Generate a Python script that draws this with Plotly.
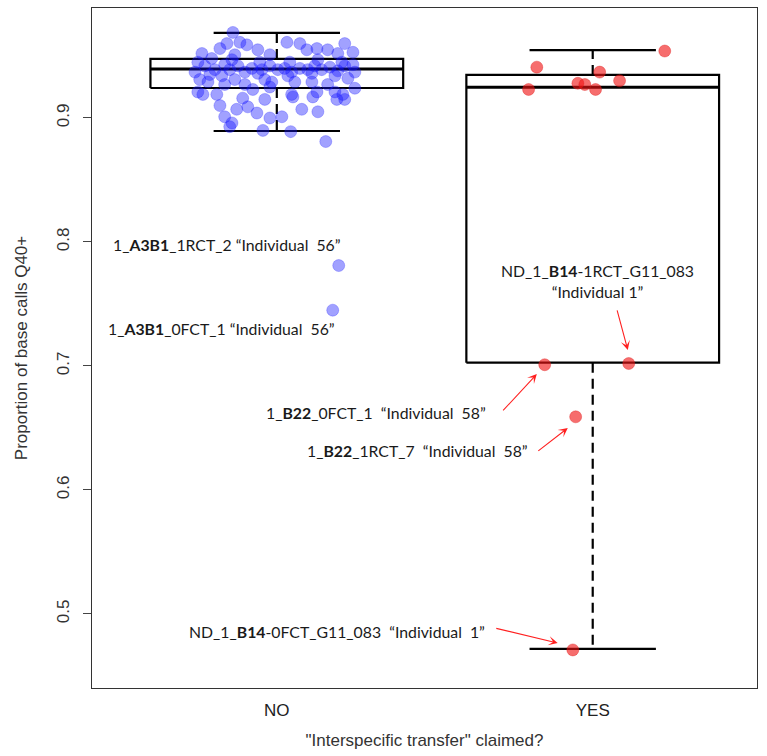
import plotly.graph_objects as go

# ---------------- data ----------------
categories = ["NO", "YES"]
cat_pos = [1, 2]

# box statistics (lower whisker, Q1, median, Q3, upper whisker)
whisker_lo = [0.8895, 0.4718]
q1 = [0.9242, 0.7027]
median = [0.9395, 0.9248]
q3 = [0.9476, 0.9347]
whisker_hi = [0.9686, 0.9548]

# NO group points: horizontal jitter and value
no_jitter = [-0.139, -0.158, -0.180, -0.237, -0.206, -0.133, 0.032, -0.060, 0.073, -0.095,
             0.215, 0.127, 0.161, 0.193, 0.095, 0.241, -0.117, -0.022,
             -0.250, -0.228, -0.165, -0.196, -0.101, -0.149, -0.123, -0.079, -0.047, -0.022,
             0.003, 0.025, 0.047, 0.073, 0.098, 0.120, 0.142, 0.168, 0.193, 0.215, 0.241, 0.247,
             -0.259, -0.212, -0.174, -0.060, 0.035, 0.111, 0.184, 0.206, 0.130, 0.041, -0.054, -0.142,
             -0.218, -0.165, -0.133, -0.250, -0.190, -0.016, 0.057, -0.076, 0.047, -0.022, 0.225,
             0.111, 0.161, 0.184, 0.127, 0.209, 0.247, -0.101, -0.244, -0.038,
             -0.108, -0.092, -0.127, -0.063, -0.038, -0.165, -0.142, -0.149, -0.022, -0.044, 0.016,
             0.051, 0.114, 0.079, 0.130, 0.044, 0.155, 0.190, 0.215, -0.180, -0.234,
             0.196, 0.177]
no_values = [0.969, 0.960, 0.956, 0.952, 0.948, 0.951, 0.961, 0.955, 0.960, 0.959,
             0.960, 0.956, 0.955, 0.952, 0.955, 0.953, 0.961, 0.951,
             0.945, 0.942, 0.943, 0.939, 0.937, 0.939, 0.942, 0.940, 0.939, 0.942,
             0.939, 0.940, 0.937, 0.940, 0.939, 0.942, 0.939, 0.941, 0.938, 0.942, 0.943, 0.937,
             0.937, 0.935, 0.934, 0.936, 0.934, 0.936, 0.934, 0.945, 0.947, 0.945, 0.945, 0.947,
             0.929, 0.927, 0.931, 0.921, 0.919, 0.929, 0.929, 0.923, 0.919, 0.925, 0.932,
             0.929, 0.927, 0.921, 0.921, 0.919, 0.924, 0.927, 0.931, 0.931,
             0.916, 0.909, 0.907, 0.904, 0.915, 0.901, 0.896, 0.893, 0.900, 0.890, 0.901,
             0.917, 0.917, 0.907, 0.905, 0.889, 0.881, 0.915, 0.915, 0.910, 0.919,
             0.781, 0.745]

# YES group points
yes_jitter = [0.228, -0.177, 0.022, 0.085, -0.203, -0.047, -0.025, 0.009,
              -0.152, 0.114, -0.054, -0.063]
yes_values = [0.954, 0.941, 0.937, 0.930, 0.923, 0.928, 0.927, 0.923,
              0.701, 0.702, 0.659, 0.471]

# annotation labels
label_texts = [
    "1_<b>A3B1</b>_1RCT_2 \u201cIndividual\u00a0\u00a056\u201d",
    "1_<b>A3B1</b>_0FCT_1 \u201cIndividual\u00a0\u00a056\u201d",
    "ND_1_<b>B14</b>-1RCT_G11_083<br>\u201cIndividual 1\u201d",
    "1_<b>B22</b>_0FCT_1\u00a0\u00a0\u201cIndividual\u00a0\u00a058\u201d",
    "1_<b>B22</b>_1RCT_7\u00a0\u00a0\u201cIndividual\u00a0\u00a058\u201d",
    "ND_1_<b>B14</b>-0FCT_G11_083\u00a0\u00a0\u201cIndividual\u00a0\u00a01\u201d",
]
label_x = [0.842, 0.826, 2.016, 1.313, 1.446, 1.190]
label_y = [0.7976, 0.7306, 0.7685, 0.6621, 0.6315, 0.4855]

# arrows: head and tail positions in data units
arrow_head_x = [1.823, 1.921, 2.111, 1.889]
arrow_head_y = [0.6935, 0.650, 0.7129, 0.4766]
arrow_tail_x = [1.712, 1.823, 2.076, 1.690]
arrow_tail_y = [0.6629, 0.6306, 0.7460, 0.4887]

# ---------------- figure ----------------
BOX_HW = 0.40
CAP_HW = 0.20

fig = go.Figure()

for i, c in enumerate(cat_pos):
    fig.add_trace(go.Scatter(
        x=[c - BOX_HW, c + BOX_HW, c + BOX_HW, c - BOX_HW, c - BOX_HW],
        y=[q1[i], q1[i], q3[i], q3[i], q1[i]],
        mode="lines", line=dict(color="black", width=2.2), hoverinfo="skip", showlegend=False))
    fig.add_trace(go.Scatter(
        x=[c - BOX_HW, c + BOX_HW], y=[median[i], median[i]],
        mode="lines", line=dict(color="black", width=3.2), hoverinfo="skip", showlegend=False))
    fig.add_trace(go.Scatter(
        x=[c, c, None, c, c], y=[q3[i], whisker_hi[i], None, q1[i], whisker_lo[i]],
        mode="lines", line=dict(color="black", width=2.2, dash="10px,6px"),
        hoverinfo="skip", showlegend=False))
    fig.add_trace(go.Scatter(
        x=[c - CAP_HW, c + CAP_HW, None, c - CAP_HW, c + CAP_HW],
        y=[whisker_hi[i], whisker_hi[i], None, whisker_lo[i], whisker_lo[i]],
        mode="lines", line=dict(color="black", width=2.2), hoverinfo="skip", showlegend=False))

fig.add_trace(go.Scatter(
    x=[cat_pos[0] + j for j in no_jitter], y=no_values, mode="markers",
    marker=dict(size=12, color="rgba(20,20,255,0.40)",
                line=dict(color="rgba(20,20,255,0.25)", width=1)),
    showlegend=False))
fig.add_trace(go.Scatter(
    x=[cat_pos[1] + j for j in yes_jitter], y=yes_values, mode="markers",
    marker=dict(size=12, color="rgba(240,20,20,0.62)",
                line=dict(color="rgba(220,20,20,0.35)", width=1)),
    showlegend=False))

annotations = []
for t, x, y in zip(label_texts, label_x, label_y):
    annotations.append(dict(
        text=t, x=x, y=y, xref="x", yref="y", showarrow=False,
        font=dict(family="Lato, 'Noto Sans', sans-serif", size=15.8, color="#1a1a1a"),
        xanchor="center", yanchor="middle", align="center"))
for hx, hy, tx, ty in zip(arrow_head_x, arrow_head_y, arrow_tail_x, arrow_tail_y):
    annotations.append(dict(
        text="", x=hx, y=hy, xref="x", yref="y", ax=tx, ay=ty, axref="x", ayref="y",
        showarrow=True, arrowhead=3, arrowsize=1.4, arrowwidth=1.1, arrowcolor="#ff2020",
        standoff=0, startstandoff=0))

fig.update_layout(
    width=767, height=756,
    margin=dict(l=92, r=10, t=8, b=68),
    paper_bgcolor="white", plot_bgcolor="white",
    font=dict(family="'Liberation Sans', Arial, sans-serif", color="#222"),
    annotations=annotations,
    xaxis=dict(
        range=[0.415, 2.52], tickvals=cat_pos, ticktext=categories,
        showgrid=False, zeroline=False, showline=True, mirror=True,
        linecolor="#333", linewidth=1, ticks="", ticklabelstandoff=7,
        tickfont=dict(size=17, color="#222"),
        title=dict(text="\"Interspecific transfer\" claimed?", font=dict(size=17, color="#333"), standoff=14),
    ),
    yaxis=dict(
        range=[0.4403, 0.9887], tickvals=[0.5, 0.6, 0.7, 0.8, 0.9],
        ticktext=["0.5", "0.6", "0.7", "0.8", "0.9"],
        showgrid=False, zeroline=False, showline=True, mirror=True,
        linecolor="#333", linewidth=1, ticks="outside", ticklen=8, tickcolor="#444",
        tickangle=-90, ticklabelstandoff=7, tickfont=dict(size=17, color="#333"),
        title=dict(text="Proportion of base calls Q40+", font=dict(size=17, color="#333"), standoff=22),
    ),
)

fig.write_html("out.html")
